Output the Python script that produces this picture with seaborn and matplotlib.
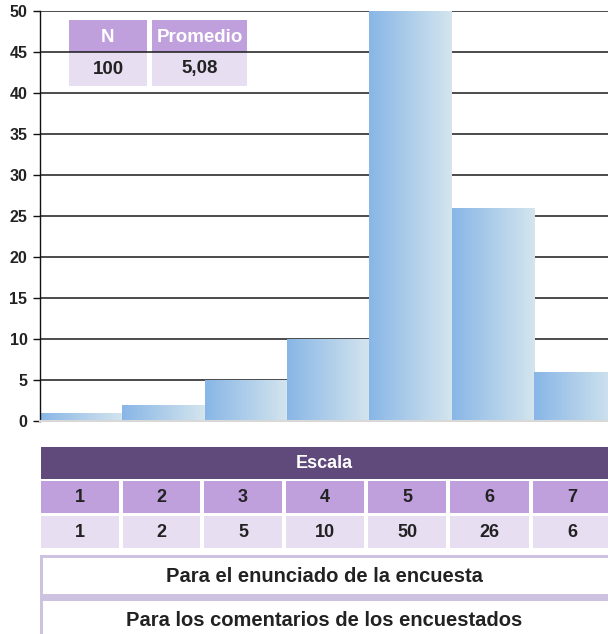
import numpy as np
import matplotlib
matplotlib.use("Agg")
import matplotlib.pyplot as plt
from matplotlib.patches import Rectangle
from matplotlib.colors import LinearSegmentedColormap
import seaborn as sns

# ---- data ----
categories = ["1", "2", "3", "4", "5", "6", "7"]
counts = [1, 2, 5, 10, 50, 26, 6]
y_ticks = [0, 5, 10, 15, 20, 25, 30, 35, 40, 45, 50]
summary_headers = ["N", "Promedio"]
summary_values = ["100", "5,08"]
scale_title = "Escala"
notes = ["Para el enunciado de la encuesta", "Para los comentarios de los encuestados"]

sns.set_theme(style="white")
plt.rcParams["font.family"] = ["Liberation Sans", "DejaVu Sans"]
plt.rcParams["font.weight"] = "bold"

W, H = 608, 634
fig = plt.figure(figsize=(W / 100, H / 100), dpi=100)
fig.patch.set_facecolor("white")

ax_left, ax_right, ax_top, ax_bot = 40, 608, 11, 421
ax = fig.add_axes([ax_left / W, 1 - ax_bot / H, (ax_right - ax_left) / W, (ax_bot - ax_top) / H])

sns.barplot(x=categories, y=counts, width=1.0, color="#8ab8e6", ax=ax, zorder=2)

# gradient fill for bars
cmap = LinearSegmentedColormap.from_list("bargrad", ["#88b6e6", "#d4e5ee"])
grad = np.linspace(0, 1, 256).reshape(1, -1)
for p in list(ax.patches):
    x0, w, h = p.get_x(), p.get_width(), p.get_height()
    im = ax.imshow(grad, extent=[x0, x0 + w, 0, h], aspect="auto", cmap=cmap,
                   origin="lower", zorder=2, interpolation="bilinear")
    im.set_clip_path(p)
    p.set_facecolor("none")
    p.set_edgecolor("none")

ax.set_xlim(-0.5, 6.4)
ax.set_ylim(0, 50)
ax.set_yticks(y_ticks)
ax.set_yticklabels([str(t) for t in y_ticks], fontsize=11.5, fontweight="bold", color="#222222")
ax.set_xticks([])
ax.set_xlabel("")
ax.set_ylabel("")
ax.set_axisbelow(True)
ax.yaxis.grid(True, color="#1a1a1a", linewidth=1.1)
ax.tick_params(axis="y", which="both", left=True, length=5, width=1, color="#111111", pad=4)
for s in ["top", "right"]:
    ax.spines[s].set_visible(False)
ax.spines["left"].set_color("#111111")
ax.spines["left"].set_linewidth(1.0)
ax.spines["bottom"].set_color("#d8d8d8")
ax.spines["bottom"].set_linewidth(1.5)


def fig_rect(x0, y0, x1, y1, color, target=None, z=1):
    r = Rectangle((x0 / W, 1 - y1 / H), (x1 - x0) / W, (y1 - y0) / H,
                  transform=fig.transFigure, facecolor=color, edgecolor="none",
                  zorder=z, clip_on=False)
    if target is None:
        fig.add_artist(r)
    else:
        target.add_patch(r)


def fig_text(x, y, s, size, color):
    fig.text(x / W, 1 - y / H, s, ha="center", va="center", fontsize=size,
             fontweight="bold", color=color, family=["Liberation Sans", "DejaVu Sans"], zorder=5)


head_col = "#bf9fdc"
light_col = "#e7def2"
dark_col = "#604a7b"
txt_col = "#222222"

# summary table inside plot
sum_cols = [(69, 147), (152, 247)]
for (x0, x1), hd, val in zip(sum_cols, summary_headers, summary_values):
    fig_rect(x0, 20, x1, 52, head_col, target=ax, z=0.3)
    fig_rect(x0, 52, x1, 86, light_col, target=ax, z=0.3)
    fig_text((x0 + x1) / 2, 37, hd, 13.5, "white")
    fig_text((x0 + x1) / 2, 69, val, 13.5, txt_col)

# scale table below
fig_rect(41, 447, 608, 479, dark_col)
fig_text((41 + 608) / 2, 463, scale_title, 13, "white")
cols = [(41, 119), (123, 200), (204, 282), (286, 364), (368, 446), (450, 529), (533, 608)]
for (x0, x1), c, v in zip(cols, categories, counts):
    fig_rect(x0, 481, x1, 513, head_col)
    fig_rect(x0, 516, x1, 548, light_col)
    cx = (x0 + x1) / 2 if x1 < 608 else (x0 + x0 + 78) / 2
    fig_text(cx, 497.5, c, 13, txt_col)
    fig_text(cx, 532.5, str(v), 13, txt_col)

# note boxes
fig_rect(40, 555, 608, 634, "#cdc2df")
fig_rect(43, 558, 608, 594, "white")
fig_rect(43, 601, 608, 634, "white")
fig_text(324, 577, notes[0], 14.5, txt_col)
fig_text(324, 620, notes[1], 14.5, txt_col)

fig.savefig("out.png", dpi=100, facecolor="white")
